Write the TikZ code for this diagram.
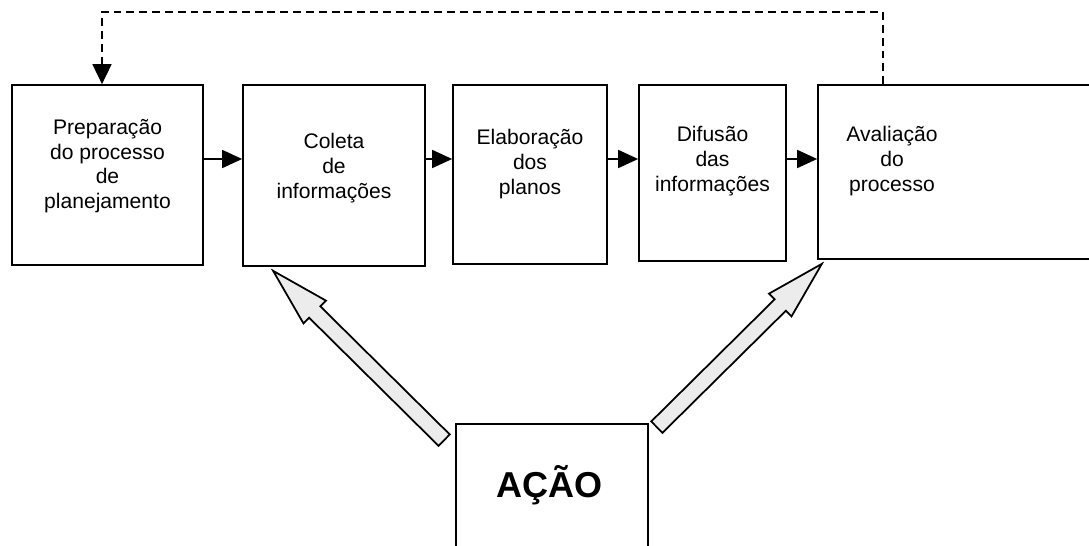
\documentclass[tikz,border=0pt]{standalone}
\usepackage{fontspec}
\setmainfont{Liberation Sans}
\usepackage{tikz}
\usetikzlibrary{arrows.meta, calc}

% hollow block arrow from tail (#1) to tip (#2)
\newcommand{\hollowarrow}[2]{%
  \path ($(#2)!1.17cm!(#1)$) coordinate (hb);
  \filldraw[hollow] ($(#1)!0.16cm!90:(#2)$) -- ($(hb)!0.16cm!90:(#2)$) -- ($(hb)!0.32cm!90:(#2)$)
    -- (#2) -- ($(hb)!0.32cm!-90:(#2)$) -- ($(hb)!0.16cm!-90:(#2)$) -- ($(#1)!0.16cm!-90:(#2)$) -- cycle;
}

\begin{document}
\begin{tikzpicture}[x=0.02cm, y=0.02cm,
    every node/.style={font=\fontsize{12}{14}\selectfont},
    stagebox/.style={rectangle, draw, line width=1pt, inner sep=0pt},
    stagetext/.style={align=center},
    flow/.style={line width=1pt, -{Triangle[length=0.4cm, width=0.36cm]}},
    feedback/.style={line width=1pt, dash pattern=on 4.5pt off 2.8pt, -{Triangle[length=0.4cm, width=0.38cm]}},
    hollow/.style={line width=1pt, fill=gray!15, line join=miter},
]
\useasboundingbox (0,0) rectangle (1089,545);
\clip (0,0) rectangle (1089,545);
% Stages
\node[stagebox, minimum width=3.82cm, minimum height=3.6cm] (b1) at (107.5,370) {};
\node[stagebox, minimum width=3.64cm, minimum height=3.62cm] (b2) at (334,369.5) {};
\node[stagebox, minimum width=3.08cm, minimum height=3.58cm] (b3) at (530,370.5) {};
\node[stagebox, minimum width=2.94cm, minimum height=3.52cm] (b4) at (712.5,372) {};
\node[stagebox, minimum width=5.64cm, minimum height=3.48cm] (b5) at (959,373) {};
\node[stagetext] (t1) at (107.5,379) {Preparação\\do processo\\de\\planejamento};
\node[stagetext] (t2) at (334,377) {Coleta\\de\\informações};
\node[stagetext] (t3) at (530,381) {Elaboração\\dos\\planos};
\node[stagetext] (t4) at (712.5,384) {Difusão\\das\\informações};
\node[stagetext] (t5) at (892,384) {Avaliação\\do\\processo};
% Action
\node[stagebox, minimum width=3.84cm, minimum height=2.48cm] (acao) at (552,59) {};
\node[font=\fontsize{20.5}{24}\selectfont\bfseries] (ta) at (550,60) {AÇÃO};
% Flow between stages
\foreach \a/\b in {b1/b2, b2/b3, b3/b4, b4/b5} {
    \draw[flow] (\a.east |- 0,386) -- (\b.west |- 0,386);
}
% Feedback loop
\draw[feedback] (b5.north -| 883,0) -- (883,533) -| (b1.north -| 102,0);
% Action arrows
\coordinate (la) at ([xshift=-0.22cm, yshift=-0.34cm]acao.north west);
\coordinate (lb) at ([xshift=0.62cm, yshift=-0.08cm]b2.south west);
\coordinate (ra) at ([xshift=0.16cm, yshift=-0.08cm]acao.north east);
\coordinate (rb) at ([xshift=0.7cm, yshift=-0.04cm]b4.south east);
\hollowarrow{la}{lb}
\hollowarrow{ra}{rb}
\end{tikzpicture}
\end{document}
